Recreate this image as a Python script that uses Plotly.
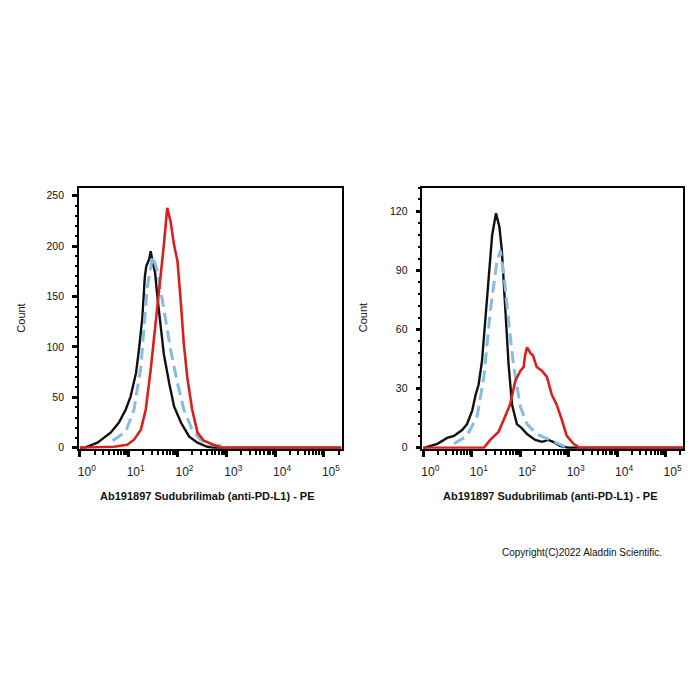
import plotly.graph_objects as go

# ---- data (x given as log10 of fluorescence intensity, y as count) ----
L_black_logx = [0.00, 0.09, 0.36, 0.63, 0.80, 0.94, 1.04, 1.15, 1.21, 1.28, 1.33, 1.36, 1.42, 1.45, 1.50, 1.54, 1.59, 1.66, 1.72, 1.83, 1.93, 2.07, 2.24, 2.41, 2.61, 2.75, 5.36]
L_black_y    = [0, 0, 5, 15, 25, 38, 51, 74, 97, 129, 169, 180, 187, 195, 182, 174, 149, 120, 93, 64, 41, 25, 11, 5, 1, 0, 0]

L_blue_logx = [0.67, 0.94, 1.11, 1.25, 1.38, 1.49, 1.59, 1.72, 1.86, 2.00, 2.13, 2.30, 2.47, 2.68, 2.95, 3.09]
L_blue_y    = [7, 16, 38, 80, 159, 190, 175, 136, 97, 64, 38, 18, 8, 3, 2, 0]

L_red_logx = [0.00, 0.70, 0.97, 1.11, 1.25, 1.35, 1.45, 1.55, 1.66, 1.72, 1.79, 1.86, 1.93, 2.00, 2.07, 2.13, 2.20, 2.30, 2.41, 2.54, 2.64, 2.78, 2.92, 5.36]
L_red_y    = [0, 1, 3, 8, 18, 38, 77, 123, 169, 201, 238, 224, 201, 185, 143, 103, 70, 38, 15, 7, 5, 2, 0, 0]

R_black_logx = [0.00, 0.01, 0.29, 0.49, 0.63, 0.80, 0.90, 1.01, 1.08, 1.14, 1.21, 1.28, 1.35, 1.42, 1.50, 1.57, 1.62, 1.69, 1.76, 1.83, 1.93, 2.03, 2.14, 2.31, 2.45, 2.58, 2.68, 2.82, 2.99, 5.36]
R_black_y    = [0, 0, 2, 5, 6, 9, 12, 19, 27, 32, 44, 66, 90, 108, 119, 112, 100, 73, 42, 22, 12, 10, 7, 4, 3, 4, 3, 1, 0, 0]

R_blue_logx = [0.63, 0.90, 1.11, 1.25, 1.38, 1.52, 1.59, 1.67, 1.76, 1.86, 2.00, 2.14, 2.34, 2.62, 2.89, 3.03]
R_blue_y    = [2, 6, 16, 36, 69, 95, 100, 86, 64, 42, 21, 12, 7, 4, 1, 0]

R_red_logx = [0.00, 1.25, 1.38, 1.55, 1.69, 1.79, 1.90, 2.00, 2.07, 2.10, 2.14, 2.21, 2.26, 2.34, 2.45, 2.55, 2.65, 2.75, 2.86, 2.96, 3.10, 3.23, 5.36]
R_red_y    = [0, 0, 4, 8, 16, 22, 34, 39, 41, 47, 51, 48, 47, 41, 39, 36, 27, 22, 14, 6, 2, 0, 0]

x_tick_vals = [1, 10, 100, 1000, 10000, 100000]
x_tick_text = ["10<sup>0</sup>", "10<sup>1</sup>", "10<sup>2</sup>", "10<sup>3</sup>", "10<sup>4</sup>", "10<sup>5</sup>"]
L_y_ticks = [0, 50, 100, 150, 200, 250]
R_y_ticks = [0, 30, 60, 90, 120]

x_title = "Ab191897 Sudubrilimab (anti-PD-L1) - PE"
y_title = "Count"
copyright_text = "Copyright(C)2022 Aladdin Scientific."

BLACK = "#111111"
RED = "#d8201e"
BLUE = "#86bde3"
FONT = "Liberation Sans, Arial, sans-serif"


def tolin(v):
    return [10 ** a for a in v]


fig = go.Figure()

def add_panel(xa, ya, black, blue, red):
    fig.add_trace(go.Scatter(x=tolin(black[0]), y=black[1], mode="lines",
                             line=dict(color=BLACK, width=2.4), xaxis=xa, yaxis=ya, showlegend=False))
    fig.add_trace(go.Scatter(x=tolin(blue[0]), y=blue[1], mode="lines",
                             line=dict(color=BLUE, width=3, dash="12px,6px"), xaxis=xa, yaxis=ya, showlegend=False))
    fig.add_trace(go.Scatter(x=tolin(red[0]), y=red[1], mode="lines",
                             line=dict(color=RED, width=2.6), xaxis=xa, yaxis=ya, showlegend=False))

add_panel("x", "y", (L_black_logx, L_black_y), (L_blue_logx, L_blue_y), (L_red_logx, L_red_y))
add_panel("x2", "y2", (R_black_logx, R_black_y), (R_blue_logx, R_blue_y), (R_red_logx, R_red_y))

xcommon = dict(type="log", range=[-0.02, 5.36], tickvals=x_tick_vals, ticktext=x_tick_text,
               ticks="outside", ticklen=6, tickwidth=3, tickcolor="black",
               showline=True, linecolor="black", linewidth=1.5, mirror=True,
               showgrid=False, zeroline=False, ticklabelshift=7, ticklabelstandoff=5,
               tickfont=dict(family=FONT, size=12, color="#222"),
               minor=dict(ticks="outside", ticklen=4, tickwidth=2, tickcolor="black", dtick="D1", showgrid=False))

def ycommon(rng, vals, mdt):
    return dict(range=rng, tickvals=vals, ticks="outside", ticklen=5, tickwidth=3, tickcolor="black",
                showline=True, linecolor="black", linewidth=1.5, mirror=True,
                showgrid=False, zeroline=False, ticklabelstandoff=6,
                tickfont=dict(family=FONT, size=10.5, color="#111"),
                minor=dict(ticks="outside", ticklen=2.5, tickwidth=1.5, tickcolor="black", dtick=mdt, showgrid=False))

y_dom = [1 - 452 / 700, 1 - 189 / 700]
fig.update_layout(
    width=700, height=700, margin=dict(l=0, r=0, t=0, b=0),
    paper_bgcolor="white", plot_bgcolor="white",
    xaxis=dict(domain=[78 / 700, 341 / 700], anchor="y", **xcommon),
    yaxis=dict(domain=y_dom, anchor="x", **ycommon([-1, 258], L_y_ticks, 10)),
    xaxis2=dict(domain=[422 / 700, 683 / 700], anchor="y2", **xcommon),
    yaxis2=dict(domain=y_dom, anchor="x2", **ycommon([-0.5, 132], R_y_ticks, 6)),
)

ann = []
for cx in [207, 550]:
    ann.append(dict(text="<b>" + x_title + "</b>", x=cx / 700, y=1 - 500 / 700, xref="paper", yref="paper",
                    showarrow=False, font=dict(family=FONT, size=11, color="#111"), xanchor="center", yanchor="middle"))
for cx in [20, 362]:
    ann.append(dict(text=y_title, x=cx / 700, y=1 - 320 / 700, xref="paper", yref="paper", textangle=-90,
                    showarrow=False, font=dict(family=FONT, size=11, color="#111"), xanchor="center", yanchor="middle"))
ann.append(dict(text=copyright_text, x=500 / 700, y=1 - 556 / 700, xref="paper", yref="paper",
                showarrow=False, font=dict(family=FONT, size=10, color="#111"), xanchor="left", yanchor="middle"))
fig.update_layout(annotations=ann)

fig.write_html("out.html")
